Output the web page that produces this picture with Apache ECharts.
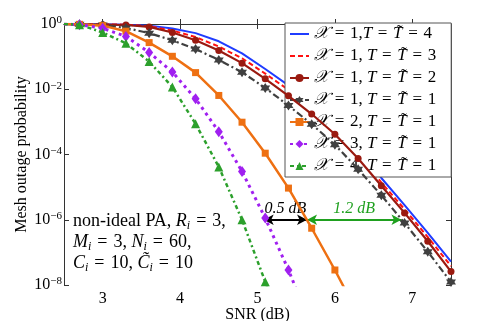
<!DOCTYPE html>
<html>
<head>
<meta charset="utf-8">
<script src="https://cdn.jsdelivr.net/npm/echarts@6/dist/echarts.min.js"></script>
<style>
  html, body { margin: 0; padding: 0; background: #fff; }
  #chart { width: 498px; height: 321px; }
</style>
</head>
<body>
<div id="chart"></div>
<script>
// SNR grid (dB); values below are log10 of the mesh outage probability
const snr = [2.5, 2.7, 3.0, 3.3, 3.6, 3.9, 4.2, 4.5, 4.8, 5.1, 5.4, 5.7, 6.0, 6.3, 6.6, 6.9, 7.2, 7.5];

const x1T4 = [0, -0.01, -0.01, -0.02, -0.05, -0.14, -0.28, -0.53, -0.9, -1.38, -1.88, -2.44, -3.05, -3.82, -4.72, -5.55, -6.4, -7.28];
const x1T3 = [0, -0.01, -0.01, -0.02, -0.07, -0.2, -0.4, -0.69, -1.05, -1.52, -2.02, -2.58, -3.2, -3.98, -4.86, -5.68, -6.53, -7.42];
const x1T2 = [0, -0.02, -0.02, -0.03, -0.09, -0.26, -0.5, -0.81, -1.2, -1.68, -2.2, -2.76, -3.38, -4.12, -4.96, -5.79, -6.66, -7.59];
const x1T1 = [0, -0.01, -0.03, -0.12, -0.28, -0.5, -0.77, -1.1, -1.48, -1.96, -2.5, -3.07, -3.7, -4.45, -5.25, -6.1, -6.98, -7.91];
const x2T1 = [0, -0.01, -0.05, -0.22, -0.57, -0.99, -1.49, -2.19, -3.01, -3.96, -5.03, -6.26, -7.54, -8.9];
const x3T1 = [0, -0.02, -0.13, -0.38, -0.87, -1.47, -2.29, -3.3, -4.52, -5.95, -7.54, -9.3];
const x4T1 = [0, -0.02, -0.26, -0.59, -1.15, -1.93, -3.06, -4.38, -6.0, -7.9, -9.9];

const yTicks = [-8, -6, -4, -2, 0];

const seriesNames = [
  '𝒳 = 1,T = T̃ = 4',
  '𝒳 = 1, T = T̃ = 3',
  '𝒳 = 1, T = T̃ = 2',
  '𝒳 = 1, T = T̃ = 1',
  '𝒳 = 2, T = T̃ = 1',
  '𝒳 = 3, T = T̃ = 1',
  '𝒳 = 4, T = T̃ = 1'
];
const eq = '\u2004=\u2004';
const legendRich = [
  '{i|𝒳}' + eq + '1,{i|T}' + eq + '{i|T̃}' + eq + '4',
  '{i|𝒳}' + eq + '1, {i|T}' + eq + '{i|T̃}' + eq + '3',
  '{i|𝒳}' + eq + '1, {i|T}' + eq + '{i|T̃}' + eq + '2',
  '{i|𝒳}' + eq + '1, {i|T}' + eq + '{i|T̃}' + eq + '1',
  '{i|𝒳}' + eq + '2, {i|T}' + eq + '{i|T̃}' + eq + '1',
  '{i|𝒳}' + eq + '3, {i|T}' + eq + '{i|T̃}' + eq + '1',
  '{i|𝒳}' + eq + '4, {i|T}' + eq + '{i|T̃}' + eq + '1'
];

// gap annotations at 1e-6
const gaps = [
  { from: 5.08, to: 5.64, level: -6, text: '0.5 dB', color: '#000000' },
  { from: 5.64, to: 6.86, level: -6, text: '1.2 dB', color: '#1fa01f' }
];

const serif = 'Liberation Serif';
const star = 'path://M0,-10L2.9,-5L8.66,-5L5.8,0L8.66,5L2.9,5L0,10L-2.9,5L-8.66,5L-5.8,0L-8.66,-5L-2.9,-5Z';

function pts(vals) {
  return vals.map((v, i) => i === 0 ? { value: [snr[i], v], symbol: 'none' } : [snr[i], v]);
}

const styles = [
  { color: '#1f3cff', type: 'solid', width: 2, symbol: 'none', size: 0 },
  { color: '#ff1010', type: [5, 3], width: 2, symbol: 'none', size: 0 },
  { color: '#9a1a10', type: 'solid', width: 2.2, symbol: 'circle', size: 7 },
  { color: '#404040', type: [7, 3, 2, 3], width: 2.2, symbol: star, size: 10 },
  { color: '#ee7012', type: 'solid', width: 2.5, symbol: 'rect', size: 7 },
  { color: '#a020f0', type: [3, 4], width: 3, symbol: 'diamond', size: [8, 11] },
  { color: '#2ca02c', type: [4, 3, 2, 3], width: 2.5, symbol: 'triangle', size: 9 }
];
const allVals = [x1T4, x1T3, x1T2, x1T1, x2T1, x3T1, x4T1];

const series = allVals.map((vals, k) => {
  const s = styles[k];
  return {
    name: seriesNames[k],
    type: 'line',
    data: pts(vals),
    symbol: s.symbol,
    symbolSize: s.size,
    showSymbol: s.symbol !== 'none',
    clip: true,
    z: 2 + k,
    lineStyle: { color: s.color, width: s.width, type: s.type },
    itemStyle: { color: s.color, borderWidth: 0 },
    animation: false
  };
});

series[4].markLine = {
  silent: true,
  symbol: ['arrow', 'arrow'],
  symbolSize: [8, 10],
  animation: false,
  data: gaps.map(g => [
    {
      coord: [g.from, g.level],
      lineStyle: { color: g.color, width: 2, type: 'solid' },
      itemStyle: { color: g.color },
      label: {
        show: true, position: 'insideMiddleTop', formatter: g.text, distance: 3,
        color: g.color, fontFamily: serif, fontSize: 16, fontStyle: 'italic'
      }
    },
    { coord: [g.to, g.level] }
  ])
};

const legendData = seriesNames.map((n, k) =>
  styles[k].symbol === 'none' ? { name: n, itemStyle: { opacity: 0 } } : { name: n });

const chart = echarts.init(document.getElementById('chart'));
chart.setOption({
  animation: false,
  grid: { left: 64, right: 47, top: 24, bottom: 36, outerBoundsMode: 'none', containLabel: false },
  legend: {
    orient: 'vertical',
    left: 285,
    top: 23,
    itemWidth: 19,
    itemHeight: 10,
    itemGap: 0,
    padding: [0, 15, 0, 4],
    backgroundColor: '#fff',
    borderColor: '#555',
    borderWidth: 1,
    data: legendData,
    formatter: name => legendRich[seriesNames.indexOf(name)],
    textStyle: {
      fontFamily: serif, fontSize: 17, color: '#000', lineHeight: 22,
      rich: { i: { fontFamily: serif, fontSize: 17, fontStyle: 'italic', lineHeight: 22 } }
    }
  },
  xAxis: [{
    type: 'value',
    min: 2.5,
    max: 7.5,
    splitNumber: 5,
    name: 'SNR (dB)',
    nameLocation: 'middle',
    nameGap: 22,
    nameMoveOverlap: false,
    nameTextStyle: { fontFamily: serif, fontSize: 16, color: '#000', verticalAlign: 'top' },
    axisLine: { lineStyle: { color: '#333' } },
    axisTick: { inside: true, length: 5, lineStyle: { color: '#333' } },
    splitLine: { show: false },
    axisLabel: {
      fontFamily: serif, fontSize: 16, color: '#000', margin: 6,
      showMinLabel: false, showMaxLabel: false,
      formatter: v => Number.isInteger(v) ? String(v) : ''
    }
  }, {
    type: 'value',
    position: 'top',
    min: 2.5,
    max: 7.5,
    splitNumber: 5,
    axisLine: { lineStyle: { color: '#333' } },
    axisTick: { inside: true, length: 5, lineStyle: { color: '#333' } },
    splitLine: { show: false },
    axisLabel: { show: false }
  }],
  yAxis: [{
    type: 'value',
    min: yTicks[0],
    max: yTicks[yTicks.length - 1],
    interval: 2,
    name: 'Mesh outage probability',
    nameLocation: 'middle',
    nameGap: 34,
    nameMoveOverlap: false,
    nameTextStyle: { fontFamily: serif, fontSize: 16, color: '#000' },
    axisLine: { show: true, lineStyle: { color: '#333' } },
    axisTick: { show: true, inside: true, length: 5, lineStyle: { color: '#333' } },
    splitLine: { show: false },
    axisLabel: {
      fontFamily: serif, fontSize: 16, color: '#000', margin: 2,
      formatter: v => '10{sup|' + (v === 0 ? '0' : '\u2212' + Math.abs(v)) + '}',
      rich: {
        sup: { fontFamily: serif, fontSize: 11, verticalAlign: 'top', lineHeight: 18, padding: [0, 0, 6, 0] }
      }
    }
  }, {
    type: 'value',
    position: 'right',
    min: yTicks[0],
    max: yTicks[yTicks.length - 1],
    interval: 2,
    axisLine: { show: true, lineStyle: { color: '#333' } },
    axisTick: { show: true, inside: true, length: 5, lineStyle: { color: '#333' } },
    splitLine: { show: false },
    axisLabel: { show: false }
  }],
  graphic: [{
    type: 'text',
    left: 73,
    top: 211,
    z: 20,
    style: {
      text: 'non-ideal PA, {i|R}{s|i}' + eq + '3,\n{i|M}{s|i}' + eq + '3, {i|N}{s|i}' + eq + '60,\n{i|C}{s|i}' + eq + '10, {i|C̃}{s|i}' + eq + '10',
      fontFamily: serif,
      fontSize: 18,
      lineHeight: 21,
      fill: '#000',
      rich: {
        i: { fontFamily: serif, fontSize: 18, fontStyle: 'italic', lineHeight: 21 },
        s: { fontFamily: serif, fontSize: 12, fontStyle: 'italic', verticalAlign: 'bottom', lineHeight: 21 }
      }
    }
  }],
  series: series
});
</script>
</body>
</html>
